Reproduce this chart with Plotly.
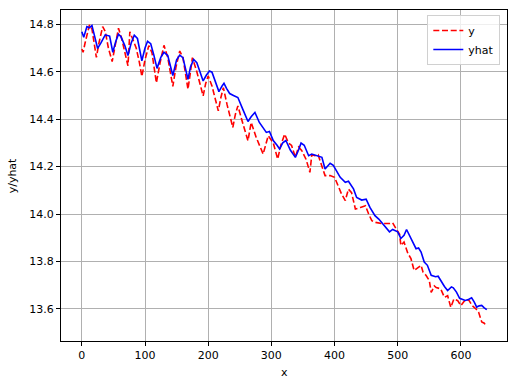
import plotly.graph_objects as go

# observed series y (red dashed)
y_x = [0, 2, 5, 9, 12, 16, 19, 23, 27, 33, 37, 42, 48, 53, 58, 63, 68, 73, 76, 80,
       86, 91, 95, 100, 106, 111, 118, 124, 130, 136, 144, 149, 155, 160, 168, 172, 175, 182, 192, 196,
       200, 206, 216, 220, 224, 230, 239, 243, 247, 255, 263, 268, 276, 287, 291, 295, 303, 310, 315, 321,
       327, 332, 338, 343, 348, 355, 361, 364, 369, 374, 385, 393, 400, 405, 411, 417, 422, 427, 433, 441,
       449, 454, 459, 465, 475, 487, 492, 497, 503, 505, 510, 516, 521, 526, 532, 537, 540, 545, 550, 553,
       558, 561, 568, 574, 579, 584, 589, 595, 600, 608, 613, 618, 624, 628, 633, 637, 640]
y_vals = [14.696, 14.682, 14.72, 14.77, 14.797, 14.78, 14.72, 14.66, 14.72, 14.79, 14.77, 14.70, 14.643, 14.72, 14.783, 14.74, 14.68, 14.625, 14.768, 14.74,
          14.70, 14.64, 14.58, 14.65, 14.71, 14.68, 14.553, 14.64, 14.711, 14.66, 14.538, 14.62, 14.687, 14.66, 14.526, 14.60, 14.659, 14.60, 14.498, 14.55,
          14.582, 14.54, 14.435, 14.49, 14.533, 14.46, 14.365, 14.42, 14.456, 14.38, 14.309, 14.386, 14.323, 14.253, 14.29, 14.33, 14.30, 14.232, 14.29, 14.337,
          14.30, 14.289, 14.24, 14.282, 14.268, 14.23, 14.176, 14.25, 14.246, 14.25, 14.162, 14.162, 14.155, 14.12, 14.085, 14.057, 14.105, 14.09, 14.021, 14.028,
          14.035, 14.00, 13.972, 13.965, 13.96, 13.96, 13.963, 13.94, 13.915, 13.868, 13.882, 13.835, 13.812, 13.762, 13.775, 13.784, 13.756, 13.741, 13.72, 13.67,
          13.697, 13.69, 13.685, 13.649, 13.656, 13.607, 13.642, 13.635, 13.614, 13.642, 13.635, 13.614, 13.60, 13.587, 13.545, 13.54, 13.527]

# predicted series yhat (blue solid)
yhat_x = [0, 3, 8, 12, 16, 20, 25, 30, 37, 44, 49, 54, 58, 62, 68, 73, 78, 83, 88, 95,
          100, 104, 109, 114, 119, 125, 130, 136, 144, 150, 155, 160, 168, 172, 177, 182, 187, 192, 197, 202,
          206, 211, 217, 222, 225, 229, 234, 240, 247, 255, 263, 268, 274, 281, 287, 292, 297, 303, 309, 313,
          318, 323, 330, 338, 343, 347, 352, 359, 364, 372, 380, 385, 393, 398, 409, 417, 422, 430, 435, 443,
          450, 456, 464, 470, 478, 483, 487, 492, 500, 505, 510, 514, 518, 523, 529, 533, 537, 542, 547, 553,
          560, 564, 568, 574, 579, 585, 588, 593, 598, 603, 607, 612, 617, 621, 625, 629, 633, 637, 641]
yhat_vals = [14.768, 14.745, 14.79, 14.785, 14.795, 14.75, 14.698, 14.72, 14.755, 14.75, 14.682, 14.73, 14.758, 14.747, 14.71, 14.668, 14.72, 14.754, 14.74, 14.646,
             14.70, 14.728, 14.718, 14.67, 14.614, 14.66, 14.682, 14.668, 14.584, 14.65, 14.67, 14.659, 14.568, 14.62, 14.652, 14.638, 14.60, 14.561, 14.585, 14.603,
             14.598, 14.56, 14.516, 14.54, 14.551, 14.53, 14.508, 14.50, 14.491, 14.44, 14.39, 14.41, 14.428, 14.386, 14.36, 14.344, 14.348, 14.31, 14.29, 14.274,
             14.30, 14.31, 14.27, 14.239, 14.27, 14.299, 14.29, 14.246, 14.253, 14.246, 14.239, 14.19, 14.214, 14.205, 14.155, 14.134, 14.138, 14.106, 14.07, 14.059,
             14.063, 14.028, 13.993, 13.979, 13.955, 13.94, 13.925, 13.935, 13.925, 13.897, 13.91, 13.935, 13.915, 13.89, 13.854, 13.857, 13.84, 13.798, 13.784, 13.742,
             13.736, 13.738, 13.72, 13.695, 13.678, 13.693, 13.689, 13.671, 13.645, 13.64, 13.636, 13.64, 13.647, 13.63, 13.608, 13.613, 13.615, 13.605, 13.597]

x_ticks = [0, 100, 200, 300, 400, 500, 600]
y_ticks = [13.6, 13.8, 14.0, 14.2, 14.4, 14.6, 14.8]

FONT = "DejaVu Sans"

fig = go.Figure()
fig.add_trace(go.Scatter(x=y_x, y=y_vals, mode="lines", name="y",
                         line=dict(color="#ff0000", width=1.6, dash="6px,2.7px")))
fig.add_trace(go.Scatter(x=yhat_x, y=yhat_vals, mode="lines", name="yhat",
                         line=dict(color="#0000ff", width=1.6)))

axis_common = dict(showline=True, linecolor="black", linewidth=1, mirror=True,
                   showgrid=True, gridcolor="#b0b0b0", gridwidth=0.8,
                   ticks="outside", ticklen=4, tickwidth=1, tickcolor="black",
                   zeroline=False, automargin=False,
                   tickfont=dict(family=FONT, size=11, color="black"))

fig.update_xaxes(range=[-33, 673], tickvals=x_ticks, **axis_common)
fig.update_yaxes(range=[13.465, 14.860], tickvals=y_ticks, tickformat=".1f", **axis_common)

fig.add_annotation(text="x", xref="paper", yref="paper", x=0.5, y=-0.094,
                   xanchor="center", yanchor="middle", showarrow=False,
                   font=dict(family=FONT, size=11, color="black"))
fig.add_annotation(text="y/yhat", xref="paper", yref="paper", x=-0.108, y=0.5,
                   xanchor="center", yanchor="middle", showarrow=False, textangle=-90,
                   font=dict(family=FONT, size=11, color="black"))

fig.update_layout(
    width=515, height=382,
    margin=dict(l=61, r=8, t=10, b=41),
    paper_bgcolor="white", plot_bgcolor="white",
    font=dict(family=FONT, size=11, color="black"),
    legend=dict(x=0.985, y=0.985, xanchor="right", yanchor="top",
                bgcolor="rgba(255,255,255,0.8)", bordercolor="#d0d0d0", borderwidth=1,
                font=dict(family=FONT, size=11, color="black"), itemwidth=30,
                tracegroupgap=0),
    showlegend=True,
)

fig.write_html("out.html", config={"displayModeBar": False},
               post_script="document.body.style.margin='0';document.body.style.padding='0';")
